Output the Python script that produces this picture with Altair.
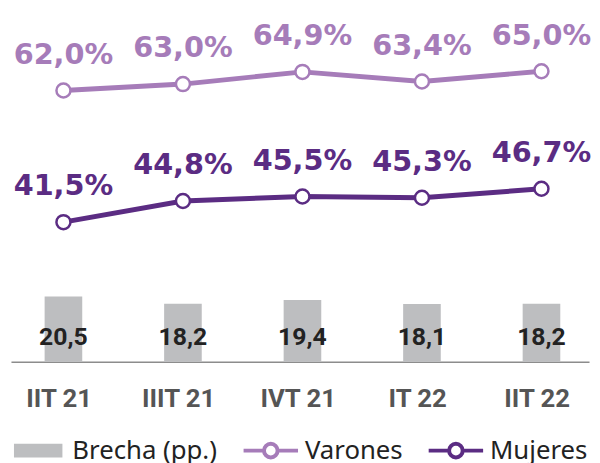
import altair as alt
import pandas as pd

periodos = ["IIT 21", "IIIT 21", "IVT 21", "IT 22", "IIT 22"]
varones = [62.0, 63.0, 64.9, 63.4, 65.0]
mujeres = [41.5, 44.8, 45.5, 45.3, 46.7]
brecha = [20.5, 18.2, 19.4, 18.1, 18.2]
series = ["Brecha (pp.)", "Varones", "Mujeres"]

GRAY = "#bdbec0"
LIGHT = "#a67cb9"
DARK = "#5b2c83"


def fmt(v):
    return f"{v:.1f}".replace(".", ",")


idx = list(range(len(periodos)))
bars_df = pd.DataFrame({
    "i": idx, "periodo": periodos, "brecha": brecha,
    "serie": series[0], "label": [fmt(v) for v in brecha],
})
lines_df = pd.DataFrame({
    "i": idx * 2, "periodo": periodos * 2, "valor": varones + mujeres,
    "serie": [series[1]] * len(varones) + [series[2]] * len(mujeres),
    "label": [fmt(v) + "%" for v in varones + mujeres],
})
legend_df = pd.DataFrame({"serie": series})

label_expr = "[" + ",".join(f"'{p}'" for p in periodos) + "][round(datum.value)]"
x = alt.X(
    "i:Q",
    scale=alt.Scale(domain=[-0.439, 4.398], nice=False, zero=False, padding=0),
    axis=alt.Axis(
        values=[i - 0.04 for i in idx], labelExpr=label_expr, title=None,
        grid=False, ticks=False, tickSize=0, domainColor="#8c8c8c",
        domainWidth=1.5, labelFont="Roboto", labelFontWeight="bold",
        labelFontSize=26, labelColor="#555555", labelPadding=24,
        labelFlush=False, labelOverlap=False,
    ),
)

RECT = "M-0.89,-0.25H0.89V0.25H-0.89Z"
LINEC = ("M-1,0H-0.25M0.25,0H1M0.25,0A0.25,0.25 0 1 1 -0.25,0"
         "A0.25,0.25 0 1 1 0.25,0")

legend = alt.Legend(
    orient="none", legendX=-2, legendY=414, direction="horizontal", title=None,
    symbolSize=3025, symbolStrokeWidth=4, symbolOpacity=1,
    labelFont="Noto Sans", labelFontSize=26, labelColor="#222222",
    labelOffset=5, columnPadding=18, labelLimit=300,
)

fill = alt.Fill("serie:N", scale=alt.Scale(domain=series, range=[GRAY, "white", "white"]), legend=legend)
stroke = alt.Stroke("serie:N", scale=alt.Scale(domain=series, range=["transparent", LIGHT, DARK]), legend=legend)
shape = alt.Shape("serie:N", scale=alt.Scale(domain=series, range=[RECT, LINEC, LINEC]), legend=legend)
text_color = alt.Color("serie:N", scale=alt.Scale(domain=series, range=[GRAY, LIGHT, DARK]), legend=None)

y_bar = alt.Y("brecha:Q", scale=alt.Scale(domain=[0, 110], nice=False), axis=None)
y_line = alt.Y("valor:Q", scale=alt.Scale(domain=[19.77, 74.33], nice=False, zero=False), axis=None)

bars = alt.Chart(bars_df).mark_bar(size=38).encode(x=x, y=y_bar, fill=fill)
bar_labels = alt.Chart(bars_df).mark_text(
    font="Roboto", fontWeight="bold", fontSize=25, color="#222222",
    baseline="alphabetic",
).encode(x=x, y=alt.value(337), text="label:N")

lines = alt.Chart(lines_df).mark_line(strokeWidth=5).encode(
    x=x, y=y_line, stroke=stroke, detail="serie:N")
points = alt.Chart(lines_df).mark_point(
    size=200, strokeWidth=2.5, opacity=1, fillOpacity=1, shape="circle",
).encode(x=x, y=y_line, fill=fill, stroke=stroke)
line_labels = alt.Chart(lines_df).mark_text(
    font="DejaVu Sans", fontWeight="bold", fontSize=29, baseline="alphabetic", dy=-27,
).encode(x=x, y=y_line, text="label:N", color=text_color)

legend_layer = alt.Chart(legend_df).mark_point(opacity=0).encode(
    x=alt.value(0), y=alt.value(0), fill=fill, stroke=stroke, shape=shape)

chart = alt.layer(
    alt.layer(bars, bar_labels),
    alt.layer(lines, points, line_labels, legend_layer),
).resolve_scale(y="independent").properties(
    width=584, height=354, padding=0,
).configure_view(stroke=None)

chart.save("out.html", embed_options={"renderer": "svg", "actions": False})
